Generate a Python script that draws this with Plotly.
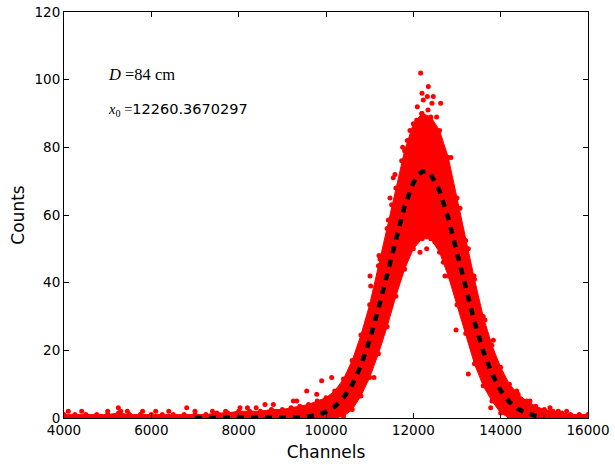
import plotly.graph_objects as go

env_channels = [4000, 4250, 4500, 4750, 5000, 5250, 5500, 5750, 6000, 6250,
                6500, 6750, 7000, 7250, 7500, 7750, 8000, 8250, 8500, 8750,
                9000, 9200, 9400, 9600, 9800, 10000, 10200, 10400, 10600, 10800,
                11000, 11200, 11400, 11600, 11800, 12000, 12200, 12400, 12600, 12800,
                13000, 13200, 13400, 13600, 13800, 14000, 14200, 14400, 14600, 14800,
                15000, 15200, 15400, 15600, 15800, 16000]
env_upper = [1, 1, 1, 1, 1, 1.5, 1, 1, 1, 1,
             1, 1, 1, 1, 1.5, 1.5, 2, 2, 2, 2.5,
             2.5, 3, 3.5, 4, 5, 6, 8, 11.5, 17, 24.5,
             33.5, 45, 56, 68, 79, 87, 90, 89, 85, 77,
             65, 52.5, 41, 30, 21.5, 15, 10, 7, 5, 3.5,
             2.5, 2, 1.5, 1, 1, 1]
env_lower = [0, 0, 0, 0, 0, 0, 0, 0, 0, 0,
             0, 0, 0, 0, 0, 0, 0, 0, 0, 0,
             0, 0, 0, 0, 0, 0, 0, 0.5, 2.5, 6.5,
             12, 19, 27, 36, 44, 50, 53, 53, 49, 42,
             33.5, 25, 16, 9.5, 5, 1.5, 0, 0, 0, 0,
             0, 0, 0, 0, 0, 0]

# ---- isolated points standing out of the band ----
out_channels = [12168, 12343, 12198, 12320, 12457, 12228, 12427, 12626, 12091, 12336,
                12191, 12534, 12077, 11923, 11862, 11756, 12862, 11580, 11465, 11503,
                11427, 11214, 11008, 11024, 11236, 11541, 11733, 11099, 10130, 9900,
                9558, 9787, 9252, 8794, 8603, 9329, 12152, 12305, 12496, 12649,
                12503, 12686, 12724, 13068, 13259, 13389, 12977, 13641, 13832, 13259,
                13771, 14366, 14251, 14671, 15129, 15319, 15511, 4099, 4405, 5000,
                5244, 5300, 5450, 5800, 6100, 6400, 6810, 7000, 7400, 7700,
                8031, 8200, 8400]
out_counts = [102, 98, 96, 95, 95, 94, 93, 93, 92, 91,
              90, 89, 88, 85, 82, 80, 77, 72, 65, 63,
              58.5, 48, 42, 39, 47, 71, 76, 12, 12, 11,
              8, 7, 5, 4, 4, 5, 49, 50, 52, 51,
              52.5, 46, 42, 62, 50, 42, 26, 29, 23, 13,
              3, 8, 2.5, 5, 3, 2, 2, 2, 2, 2,
              3, 2, 2, 2, 2, 2, 3, 2, 2, 2,
              3, 3, 3]

# ---- Gaussian fit curve ----
fit_channels = [7000, 7500, 8000, 8500, 9000, 9200, 9400, 9600, 9800, 10000,
                10200, 10400, 10600, 10800, 11000, 11200, 11400, 11600, 11800, 12000,
                12100, 12200, 12300, 12400, 12600, 12800, 13000, 13200, 13400, 13600,
                13800, 14000, 14200, 14400, 14600, 14800, 15000]
fit_counts = [0, 0, 0, 0, 0.03, 0.08, 0.19, 0.43, 0.90, 1.79,
              3.36, 5.93, 9.88, 15.5, 23.1, 32.3, 42.7, 53.2, 62.6, 69.5,
              71.7, 72.8, 73.0, 72.0, 67.1, 59.1, 49.1, 38.4, 28.4, 19.8,
              13.1, 8.11, 4.75, 2.63, 1.37, 0.68, 0.31]

x_ticks = [4000, 6000, 8000, 10000, 12000, 14000, 16000]
y_ticks = [0, 20, 40, 60, 80, 100, 120]

RED = "#ff0000"

fig = go.Figure()

# filled band of the dense scatter: lower edge, then fill up to the upper edge
fig.add_trace(go.Scatter(
    x=env_channels, y=env_lower, mode="lines",
    line=dict(color=RED, width=1), hoverinfo="skip", showlegend=False))
fig.add_trace(go.Scatter(
    x=env_channels, y=env_upper, mode="lines", fill="tonexty", fillcolor=RED,
    line=dict(color=RED, width=1), hoverinfo="skip", showlegend=False))

# dots along the edges of the band
fig.add_trace(go.Scatter(
    x=env_channels + env_channels, y=env_upper + env_lower,
    mode="markers", marker=dict(color=RED, size=5, line=dict(width=0)),
    hoverinfo="skip", showlegend=False))

# isolated dots
fig.add_trace(go.Scatter(
    x=out_channels, y=out_counts,
    mode="markers", marker=dict(color=RED, size=5, line=dict(width=0)),
    hoverinfo="skip", showlegend=False))

# fit line
fig.add_trace(go.Scatter(
    x=fit_channels, y=fit_counts, mode="lines",
    line=dict(color="black", width=4.5, dash="7px,7px"),
    hoverinfo="skip", showlegend=False))

serif = "Liberation Serif"
fig.add_annotation(
    x=4960, y=101.5, xref="x", yref="y", xanchor="left", yanchor="middle",
    showarrow=False,
    text="<i>D</i> =84 cm",
    font=dict(size=16.5, color="black", family=serif))
fig.add_annotation(
    x=4960, y=91, xref="x", yref="y", xanchor="left", yanchor="middle",
    showarrow=False,
    text=(f'<span style="font-family:{serif}"><i>x</i></span>'
          f'<sub><span style="font-family:{serif}">0</span></sub>'
          f'<span style="font-family:{serif}"> =</span>12260.3670297'),
    font=dict(size=14.5, color="black", family="DejaVu Sans"))

axis_common = dict(
    showline=True, linecolor="black", linewidth=1, mirror="ticks",
    ticks="inside", ticklen=5, tickwidth=1, tickcolor="black",
    showgrid=False, zeroline=False,
    tickfont=dict(family="DejaVu Sans", size=13.5, color="black"),
)

fig.update_xaxes(range=[4000, 16000], tickvals=x_ticks,
                 ticktext=[str(v) for v in x_ticks],
                 title=dict(text="Channels", font=dict(family="DejaVu Sans", size=17, color="black"),
                            standoff=8),
                 **axis_common)
fig.update_yaxes(range=[0, 120], tickvals=y_ticks,
                 ticktext=[str(v) for v in y_ticks],
                 title=dict(text="Counts", font=dict(family="DejaVu Sans", size=17, color="black"),
                            standoff=5),
                 **axis_common)

fig.update_layout(
    width=615, height=465,
    margin=dict(l=64, r=27, t=12, b=47, autoexpand=False),
    plot_bgcolor="white", paper_bgcolor="white",
    font=dict(family="DejaVu Sans", color="black"),
    showlegend=False, hovermode=False,
)

fig.write_html("out.html")
